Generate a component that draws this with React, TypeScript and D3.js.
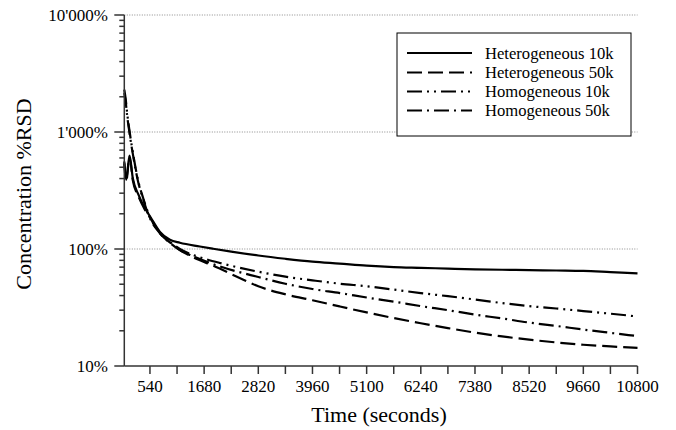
import React from "react";
import * as d3 from "d3";

const W = 676;
const H = 430;

const xTickValues = [540, 1110, 1680, 2250, 2820, 3390, 3960, 4530, 5100, 5670, 6240, 6810, 7380, 7950, 8520, 9090, 9660, 10230, 10800];
const xTickLabels = ["540", "1680", "2820", "3960", "5100", "6240", "7380", "8520", "9660", "10800"];
const yMajorTicks = [10, 100, 1000, 10000];
const yMajorLabels = ["10%", "100%", "1'000%", "10'000%"];
const gridValues = [100, 1000, 10000];

const seriesNames = ["Heterogeneous 10k", "Heterogeneous 50k", "Homogeneous 10k", "Homogeneous 50k"];

const het10kT = [0, 40, 110, 180, 300, 430, 560, 750, 960, 1170, 1590, 1870, 2250, 2820, 3390, 3960, 4530, 5100, 5670, 6240, 6810, 7380, 7950, 8520, 9090, 9660, 10230, 10800];
const het10kV = [560, 390, 630, 400, 290, 225, 185, 140, 120, 113, 105, 100.5, 95, 88, 82.5, 78, 75, 72, 70, 69, 68, 67, 66.5, 66, 65.5, 65, 63.5, 62];

const het50kT = [0, 40, 110, 180, 300, 430, 560, 750, 960, 1170, 1450, 1870, 2370, 2820, 3390, 3960, 4530, 5100, 5670, 6240, 6810, 7380, 7950, 8520, 9090, 9660, 10230, 10800];
const het50kV = [540, 380, 610, 385, 280, 218, 180, 136, 114, 98, 85, 72, 58, 48, 41, 36.5, 32.3, 28.7, 25.7, 23.2, 21.1, 19.3, 17.9, 16.8, 15.9, 15.2, 14.7, 14.3];

const hom10kT = [0, 30, 60, 113, 200, 288, 400, 500, 750, 960, 1170, 1380, 1590, 2010, 2820, 3390, 3960, 4540, 5100, 5670, 6240, 6810, 7380, 7950, 8520, 9090, 9660, 10230, 10800];
const hom10kV = [2300, 1900, 1450, 1000, 600, 389, 270, 205, 138, 115, 100, 91, 85, 76, 64, 58, 54, 50.5, 48, 45, 42, 39.5, 37, 34.5, 32.5, 31, 29.5, 28, 26.5];

const hom50kT = [0, 30, 60, 113, 200, 288, 400, 500, 750, 960, 1170, 1380, 1590, 2010, 2820, 3390, 3960, 4540, 5100, 5670, 6240, 6810, 7380, 7950, 8520, 9090, 9660, 10230, 10800];
const hom50kV = [2150, 1800, 1380, 960, 580, 380, 265, 200, 136, 113, 98, 89, 82, 71, 57.6, 50.5, 45.5, 42, 38.5, 35.5, 32.5, 30, 27.5, 25.5, 23.5, 22, 20.5, 19.2, 18];

const dashes = ["", "15,6", "15,5,2,5,2,5", "15,5,2,5"];

const FONT = "'Liberation Serif', 'Times New Roman', serif";

export default function App() {
  const x = d3.scaleLinear().domain([0, 10800]).range([124.3, 637.5]);
  const y = d3.scaleLog().domain([10, 10000]).range([366, 15]);

  const allT = [het10kT, het50kT, hom10kT, hom50kT];
  const allV = [het10kV, het50kV, hom10kV, hom50kV];

  const line = d3
    .line<[number, number]>()
    .x((d) => x(d[0]))
    .y((d) => y(d[1]))
    .curve(d3.curveMonotoneX);

  const minorTicks: number[] = [];
  [10, 100, 1000].forEach((b) => {
    for (let k = 2; k <= 9; k++) minorTicks.push(b * k);
  });

  const x0 = x(0);
  const x1 = x(10800);
  const yb = y(10);

  const legendRows = [53, 72.5, 91.5, 110.5];

  return (
    <svg
      width={W}
      height={H}
      style={{ position: "absolute", left: 0, top: 0, background: "#fff" }}
      fontFamily={FONT}
    >
      <rect x={0} y={0} width={W} height={H} fill="#fff" />
      {gridValues.map((g) => (
        <line key={g} x1={x0} x2={x1} y1={y(g)} y2={y(g)} stroke="#8a8a8a" strokeWidth={1} strokeDasharray="1,1.5" />
      ))}

      {allT.map((ts, i) => {
        const pts: [number, number][] = ts.map((t, j) => [t, allV[i][j]]);
        return (
          <path
            key={i}
            d={line(pts) || ""}
            fill="none"
            stroke="#000"
            strokeWidth={2.2}
            strokeDasharray={dashes[i] || undefined}
          />
        );
      })}

      {/* y axis */}
      <line x1={x0} x2={x0} y1={y(10000)} y2={yb} stroke="#333" strokeWidth={1.5} />
      {yMajorTicks.map((v, i) => (
        <g key={v}>
          <line x1={x0 - 10} x2={x0} y1={y(v)} y2={y(v)} stroke="#333" strokeWidth={1.5} />
          <text x={108} y={y(v)} dy="0.35em" textAnchor="end" fontSize={17} fill="#000">
            {yMajorLabels[i]}
          </text>
        </g>
      ))}
      {minorTicks.map((v) => (
        <line key={v} x1={x0 - 5} x2={x0} y1={y(v)} y2={y(v)} stroke="#333" strokeWidth={1.5} />
      ))}

      {/* x axis */}
      <line x1={x0} x2={x1} y1={yb} y2={yb} stroke="#333" strokeWidth={1.5} />
      {xTickValues.map((t) => (
        <line key={t} x1={x(t)} x2={x(t)} y1={yb} y2={yb + 8} stroke="#333" strokeWidth={1.5} />
      ))}
      {xTickLabels.map((l) => (
        <text key={l} x={x(+l)} y={392} textAnchor="middle" fontSize={17} fill="#000">
          {l}
        </text>
      ))}

      <text x={379} y={422} textAnchor="middle" fontSize={22} fill="#000">
        Time (seconds)
      </text>
      <text
        transform={`translate(31,194) rotate(-90)`}
        textAnchor="middle"
        fontSize={22}
        fill="#000"
      >
        Concentration %RSD
      </text>

      {/* legend */}
      <rect x={397} y={33} width={234} height={103} fill="#fff" stroke="#000" strokeWidth={1} />
      {seriesNames.map((n, i) => (
        <g key={n}>
          <line
            x1={407}
            x2={472}
            y1={legendRows[i]}
            y2={legendRows[i]}
            stroke="#000"
            strokeWidth={2.2}
            strokeDasharray={dashes[i] || undefined}
          />
          <text x={485} y={legendRows[i]} dy="0.35em" fontSize={16.6} fill="#000">
            {n}
          </text>
        </g>
      ))}
    </svg>
  );
}
